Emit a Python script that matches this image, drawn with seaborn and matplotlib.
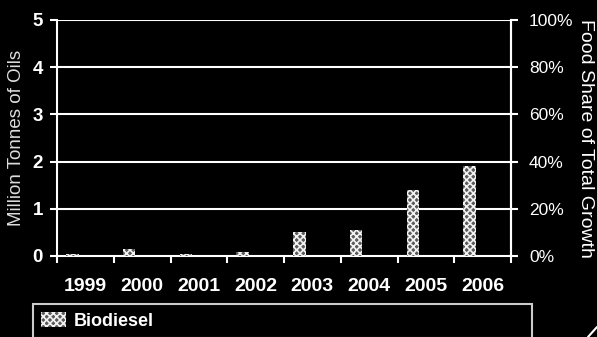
import matplotlib
matplotlib.use("Agg")
import matplotlib.pyplot as plt
from matplotlib.ticker import FixedLocator, PercentFormatter
from matplotlib.lines import Line2D
import matplotlib.patches as mpatches
import seaborn as sns
import pandas as pd

# Biodiesel use of vegetable oils, million tonnes
years = ["1999", "2000", "2001", "2002", "2003", "2004", "2005", "2006"]
biodiesel = [0.05, 0.15, 0.05, 0.08, 0.5, 0.55, 1.4, 1.9]
left_ticks = [0, 1, 2, 3, 4, 5]
right_ticks = [0, 0.2, 0.4, 0.6, 0.8, 1.0]

sns.set_theme(style="dark")
plt.rcParams["font.family"] = ["Liberation Sans", "DejaVu Sans"]
plt.rcParams["hatch.linewidth"] = 1.2

fg = "white"
bar_face = "#5a5a5a"
bar_hatch = "#f2f2f2"
df = pd.DataFrame({"year": years, "tonnes": biodiesel})

fig = plt.figure(figsize=(5.97, 3.37), dpi=100, facecolor="black")
ax = fig.add_axes([0.0955, 0.2404, 0.7605, 0.7003], facecolor="black")

sns.barplot(data=df, x="year", y="tonnes", ax=ax, width=0.22,
            color=bar_face, edgecolor=bar_hatch, linewidth=0,
            hatch="xxxxx", zorder=3)
# bars sit left of the category centre, leaving the right half free
for p in ax.patches:
    p.set_x(p.get_x() - 0.23)

ax.set_xlim(-0.5, len(years) - 0.5)
ax.set_ylim(0, 5)
ax.yaxis.set_major_locator(FixedLocator(left_ticks))
ax.grid(False)
for v in left_ticks[1:]:
    ax.axhline(v, color=fg, lw=1.5, zorder=1)

for side in ["left", "bottom", "right"]:
    ax.spines[side].set_visible(True)
    ax.spines[side].set_color(fg)
    ax.spines[side].set_linewidth(1.5)
ax.spines["top"].set_visible(False)

# category separators on the x axis
ax.xaxis.set_minor_locator(FixedLocator([i + 0.5 for i in range(-1, len(years))]))
ax.tick_params(axis="x", which="major", length=0, pad=16, labelsize=14,
               colors=fg)
ax.tick_params(axis="x", which="minor", bottom=True, length=5, width=1.5,
               color=fg)
ax.tick_params(axis="y", which="major", left=True, length=5, width=1.5,
               pad=5, labelsize=13.5, colors=fg)
for t in ax.get_xticklabels() + ax.get_yticklabels():
    t.set_fontweight("bold")

ax.set_xlabel("")
ax.set_ylabel("Million Tonnes of Oils", color="#dddddd", fontsize=13.5,
              labelpad=6)
ax.yaxis.set_label_coords(-0.07, 0.5)

# secondary axis: food share of total growth
ax2 = ax.twinx()
ax2.set_ylim(0, 1)
ax2.yaxis.set_major_locator(FixedLocator(right_ticks))
ax2.yaxis.set_major_formatter(PercentFormatter(1.0, decimals=0))
ax2.grid(False)
ax2.tick_params(axis="y", right=True, length=5, width=1.5, pad=8,
                labelsize=12.5, colors=fg)
for side in ["left", "bottom", "top"]:
    ax2.spines[side].set_visible(False)
ax2.spines["right"].set_color(fg)
ax2.spines["right"].set_linewidth(1.5)
ax2.set_ylabel("Food Share of Total Growth", color=fg, fontsize=14,
               rotation=-90, va="center")
ax2.yaxis.set_label_coords(1.165, 0.5)

# legend box along the bottom
handle = mpatches.Patch(facecolor=bar_face, edgecolor=bar_hatch,
                        linewidth=0, hatch="xxxxx", label="Biodiesel")
leg = fig.legend(handles=[handle], loc="upper left",
                 bbox_to_anchor=(0.055, 0.098, 0.836, 0.0),
                 bbox_transform=fig.transFigure, mode="expand",
                 frameon=True, fancybox=False, fontsize=13,
                 handlelength=1.4, handleheight=0.9, handletextpad=0.4,
                 borderpad=0.45, borderaxespad=0)
leg.get_frame().set_facecolor("black")
leg.get_frame().set_edgecolor(fg)
leg.get_frame().set_linewidth(1.5)
for t in leg.get_texts():
    t.set_color(fg)
    t.set_fontweight("bold")

# page-corner stroke at the bottom right
fig.add_artist(Line2D([588 / 597, 1.0], [0.0, 10 / 337], color=fg, lw=1.5,
                      transform=fig.transFigure))

fig.savefig("out.png", dpi=100, facecolor="black")
